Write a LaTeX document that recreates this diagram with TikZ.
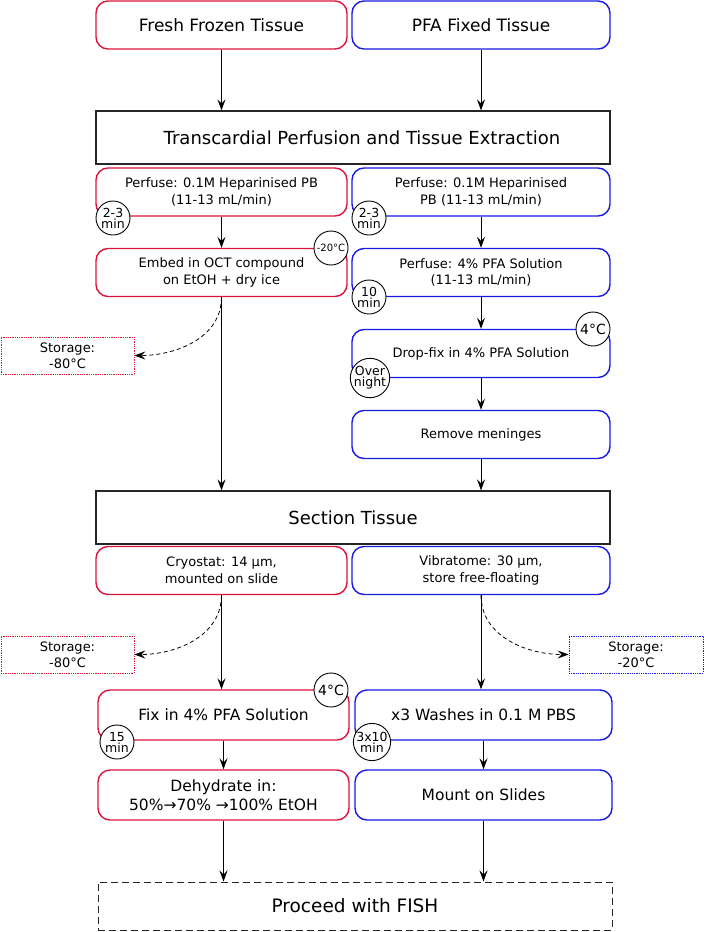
\documentclass[tikz,border=0pt]{standalone}
\usepackage{fontspec}
\setmainfont{DejaVu Sans}
\usepackage{tikz}
\usetikzlibrary{arrows.meta,positioning,calc}
\definecolor{fzred}{HTML}{DC143C}
\definecolor{pfblue}{HTML}{1A1AE6}

\begin{document}
\begin{tikzpicture}[
    x=1pt, y=-1pt,
    redbox/.style={draw=fzred, line width=1.4pt, rounded corners=12pt, fill=white, minimum width=251pt, minimum height=48pt, align=center, font=\fontsize{13}{16.5}\selectfont},
    bluebox/.style={redbox, draw=pfblue, minimum width=258pt},
    bigbox/.style={draw=black!85, line width=1.2pt, fill=white, minimum width=514pt, minimum height=53pt, font=\fontsize{18}{21}\selectfont},
    timer/.style={circle, draw, line width=0.9pt, fill=white, minimum size=34pt, inner sep=0pt, align=center, font=\fontsize{12.5}{11}\selectfont},
    store/.style={draw, densely dotted, line width=0.8pt, minimum width=133pt, minimum height=37pt, align=center, font=\fontsize{13}{16}\selectfont},
    arr/.style={-{Stealth[length=11pt, width=8pt, inset=4pt]}, line width=1pt},
    darr/.style={arr, dash pattern=on 4pt off 3pt, line width=0.8pt}
]
\useasboundingbox (0,0) rectangle (704,932);

\node[redbox, font=\fontsize{17}{20}\selectfont] (fresh) at (221.5,25) {Fresh Frozen Tissue};
\node[bluebox, font=\fontsize{17}{20}\selectfont] (pfa) at (481,25) {PFA Fixed Tissue};
\node[bigbox] (trans) at (353,137.5) {\quad Transcardial Perfusion and Tissue Extraction};

\node[redbox] (perfl) at (221.5,192) {Perfuse: 0.1M Heparinised PB\\(11-13 mL/min)};
\node[bluebox] (perfr) at (481,192) {Perfuse: 0.1M Heparinised\\PB (11-13 mL/min)};
\node[redbox] (embed) at (221.5,272.5) {Embed in OCT compound\\on EtOH + dry ice};
\node[bluebox] (perfpfa) at (481,272.5) {Perfuse: 4\% PFA Solution\\(11-13 mL/min)};
\node[bluebox] (dropfix) at (481,353.5) {Drop-fix in 4\% PFA Solution};
\node[bluebox] (menin) at (481,434.5) {Remove meninges};
\node[store, draw=fzred] (storea) at (67.5,355.5) {Storage:\\-80°C};

\node[bigbox] (section) at (353,517.5) {Section Tissue};
\node[redbox] (cryo) at (221.5,570.5) {Cryostat: 14 µm,\\mounted on slide};
\node[bluebox] (vibra) at (481,570.5) {Vibratome: 30 µm,\\store free-floating};
\node[store, draw=fzred] (storeb) at (67.5,654.5) {Storage:\\-80°C};
\node[store, draw=pfblue, minimum width=134pt] (storec) at (636,654.5) {Storage:\\-20°C};

\node[redbox, minimum height=50pt, font=\fontsize{15.5}{19}\selectfont] (fixl) at (223.5,715) {Fix in 4\% PFA Solution};
\node[bluebox, minimum width=257pt, minimum height=50pt, font=\fontsize{15.5}{19}\selectfont] (wash) at (483.5,715) {x3 Washes in 0.1 M PBS};
\node[redbox, minimum height=50pt, font=\fontsize{15.5}{19.5}\selectfont] (dehyd) at (223.5,795) {Dehydrate in:\\50\%→70\% →100\% EtOH};
\node[bluebox, minimum width=257pt, minimum height=50pt, font=\fontsize{15.5}{19}\selectfont] (mount) at (483.5,795) {Mount on Slides};
\node[bigbox, minimum height=48pt, line width=1pt, dash pattern=on 7pt off 4pt, font=\fontsize{18.5}{21}\selectfont] (fish) at (355,906) {Proceed with FISH};

\node[timer] (ta) at (113,218) {2-3\\min};
\node[timer] (tb) at (369,218) {2-3\\min};
\node[timer, font=\fontsize{10}{10}\selectfont] (tc) at (331,248) {-20°C};
\node[timer, font=\fontsize{14}{14}\selectfont] (te) at (593,329) {4°C};
\node[timer] (td) at (369,297) {10\\min};
\node[timer] (tf) at (370,378) {Over\\night};
\node[timer, font=\fontsize{14}{14}\selectfont] (tg) at (331,690) {4°C};
\node[timer] (th) at (117,742) {15\\min};
\node[timer] (ti) at (372,742) {3x10\\min};

\draw[arr] (fresh) -- (fresh |- trans.north);
\draw[arr] (pfa) -- (pfa |- trans.north);
\draw[arr] (perfl) -- (embed);
\draw[arr] (perfr) -- (perfpfa);
\draw[arr] (perfpfa) -- (dropfix);
\draw[arr] (dropfix) -- (menin);
\draw[arr] (menin) -- (menin |- section.north);
\draw[arr] (embed) -- (embed |- section.north);
\draw[darr] (embed.south) to[out=-90, in=0] (storea.east);

\draw[arr] (cryo.south) -- (cryo.south |- fixl.north);
\draw[arr] (vibra.south) -- (vibra.south |- wash.north);
\draw[darr] (cryo.south) to[out=-90, in=0] (storeb.east);
\draw[darr] (vibra.south) to[out=-90, in=180] (storec.west);
\draw[arr] (fixl) -- (dehyd);
\draw[arr] (wash) -- (mount);
\draw[arr] (dehyd) -- (dehyd |- fish.north);
\draw[arr] (mount) -- (mount |- fish.north);
\end{tikzpicture}
\end{document}
